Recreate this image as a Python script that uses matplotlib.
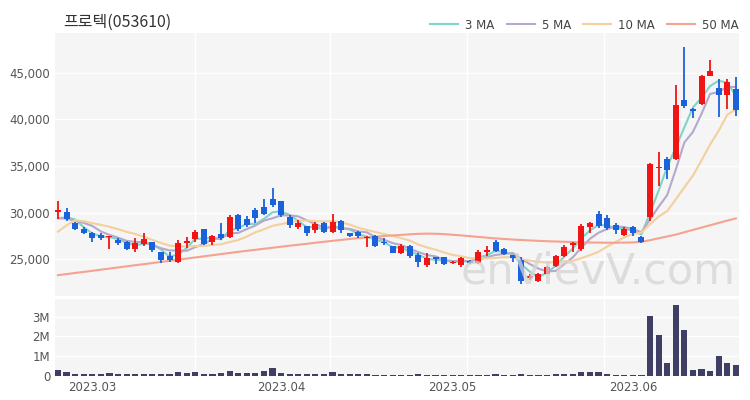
import matplotlib
matplotlib.use("Agg")
import matplotlib.pyplot as plt
import numpy as np

# ---------------- data ----------------
title = "프로텍(053610)"
opens = [30100, 30100, 28900, 28200, 27800, 27600, 27350, 27100, 26900, 26100,
         26600, 26900, 25800, 25400, 24700, 26800, 27150, 28200, 26900, 27700,
         27400, 29700, 29300, 30300, 30600, 31500, 31300, 29550, 28450, 28550,
         28100, 28850, 27950, 29100, 27800, 27900, 27250, 27500, 26850, 26400,
         25650, 26400, 25450, 24350, 25200, 25200, 24600, 24400, 24850, 24650,
         25800, 26850, 26150, 25450, 24900, 23050, 22650, 23450, 24300, 25350,
         26550, 26100, 28500, 29900, 29400, 28650, 27600, 28450, 27400, 29550,
         34750, 35800, 35800, 42100, 41150, 41650, 44650, 43400, 42600, 43300]
highs = [31200, 30500, 29000, 28500, 27900, 27800, 27550, 27300, 27000, 27300,
         27800, 26900, 25800, 25800, 27100, 27400, 28100, 28300, 27600, 28850,
         29700, 29900, 29600, 30500, 31450, 32600, 31300, 29750, 29200, 28600,
         29050, 29000, 29900, 29200, 27850, 28000, 27450, 27600, 27250, 26450,
         26600, 26550, 25650, 25700, 25250, 25300, 24800, 25250, 24900, 26000,
         26450, 27100, 26200, 25500, 25300, 23450, 23500, 24250, 25500, 26500,
         26850, 28750, 29050, 30200, 29750, 28900, 28450, 28600, 27500, 35300,
         36500, 36000, 43650, 47750, 41200, 44700, 46400, 44300, 44300, 44550]
lows = [29300, 29100, 28100, 27700, 26900, 27100, 26100, 26500, 26000, 25800,
        26400, 25800, 24600, 24750, 24600, 26200, 26900, 26500, 26500, 27100,
        27300, 28000, 28500, 28900, 29750, 30600, 29550, 28400, 28200, 27500,
        27800, 27850, 27850, 27850, 27400, 27300, 26300, 26350, 26550, 25650,
        25600, 25150, 24200, 24200, 24550, 24400, 24500, 24200, 24550, 24550,
        25350, 25750, 25500, 24750, 22400, 22800, 22550, 23400, 24200, 25250,
        25800, 25900, 27800, 28400, 28150, 27700, 27550, 27500, 26800, 29100,
        32850, 33650, 35600, 41250, 40100, 41500, 44600, 40200, 41150, 40350]
closes = [30300, 29300, 28200, 27800, 27300, 27300, 27500, 26700, 26100, 26700,
          27200, 26000, 24950, 24900, 26700, 27000, 27950, 26650, 27500, 27250,
          29550, 28200, 28700, 29400, 29900, 30800, 29750, 28700, 28850, 27800,
          28750, 27950, 29000, 28150, 27450, 27450, 27400, 26450, 26700, 25700,
          26400, 25350, 24750, 25100, 25000, 24500, 24700, 25100, 24600, 25800,
          26000, 25850, 25600, 25150, 22650, 23200, 23400, 24150, 25350, 26350,
          26800, 28600, 28900, 28600, 28350, 28150, 28300, 27800, 26900, 35250,
          34900, 34550, 41500, 41400, 40900, 44600, 45200, 42600, 44000, 41000]
# closes of the 9 sessions before the visible window (for the moving averages)
prior_closes = [22400, 22700, 29000, 29300, 29200, 29500, 29300, 29000, 28900]
# 50-day moving average
ma50 = [23300, 23420, 23540, 23650, 23770, 23890, 24010, 24130, 24250, 24370,
        24480, 24600, 24720, 24840, 24960, 25080, 25200, 25320, 25440, 25560,
        25680, 25800, 25910, 26020, 26130, 26240, 26350, 26460, 26560, 26660,
        26780, 26880, 26980, 27080, 27180, 27270, 27350, 27430, 27500, 27560,
        27620, 27680, 27730, 27750, 27740, 27700, 27630, 27560, 27480, 27400,
        27320, 27240, 27180, 27120, 27070, 27020, 26980, 26940, 26910, 26880,
        26850, 26820, 26800, 26790, 26780, 26780, 26790, 26810, 26870, 27050,
        27250, 27450, 27650, 27900, 28150, 28400, 28650, 28900, 29150, 29380]
volumes_m = [0.32, 0.19, 0.10, 0.09, 0.09, 0.08, 0.14, 0.08, 0.08, 0.11,
             0.11, 0.08, 0.08, 0.08, 0.21, 0.16, 0.17, 0.08, 0.08, 0.14,
             0.25, 0.13, 0.14, 0.16, 0.25, 0.38, 0.12, 0.10, 0.07, 0.09,
             0.10, 0.08, 0.19, 0.09, 0.08, 0.09, 0.11, 0.06, 0.06, 0.06,
             0.06, 0.06, 0.09, 0.04, 0.04, 0.03, 0.03, 0.03, 0.03, 0.03,
             0.03, 0.09, 0.03, 0.02, 0.10, 0.04, 0.03, 0.05, 0.09, 0.11,
             0.09, 0.19, 0.20, 0.17, 0.09, 0.06, 0.05, 0.06, 0.05, 3.05,
             2.05, 0.65, 3.62, 2.33, 0.30, 0.35, 0.22, 1.02, 0.67, 0.53]
month_labels = ["2023.03", "2023.04", "2023.05", "2023.06"]
month_first_idx = [4, 26, 46, 67]
price_ticks = [25000, 30000, 35000, 40000, 45000]
vol_ticks_m = [0, 1, 2, 3]
vol_tick_labels = ["0", "1M", "2M", "3M"]
ma_windows = [3, 5, 10]
ma_labels = ["3 MA", "5 MA", "10 MA", "50 MA"]

# ---------------- style ----------------
plt.rcParams['font.family'] = ['DejaVu Sans']
UP = '#f01414'
DOWN = '#1a62dc'
MA_COLORS = ['#7fd4c8', '#b5a8cb', '#f3d09c', '#f5a290']
BG = '#f5f5f5'
TXT = '#555555'

fig = plt.figure(figsize=(7.5, 4.0), dpi=100)
ax = fig.add_axes([55/750, 1-296/400, 684/750, 263/400])
axv = fig.add_axes([55/750, 1-377/400, 684/750, 78/400])

n = len(closes)
x = np.arange(n)
o = np.array(opens, float); h = np.array(highs, float)
l = np.array(lows, float); c = np.array(closes, float)
up = c >= o
cols = np.where(up, UP, DOWN)

for a in (ax, axv):
    a.set_facecolor(BG)
    for s in a.spines.values():
        s.set_visible(False)
    a.tick_params(length=0, colors=TXT, labelsize=8.5)
    a.set_xlim(-0.35, n - 0.63)
    for gx in [16, 31.7, 47.7, 63.6]:
        a.axvline(gx, color='white', lw=1.0, zorder=0)

# gridlines
for t in price_ticks:
    ax.axhline(t, color='white', lw=1.0, zorder=0)
for t in vol_ticks_m:
    axv.axhline(t, color='white', lw=1.0, zorder=0)

# moving averages
allc = np.array(prior_closes + closes, float)
for w, col, lab in zip(ma_windows, MA_COLORS[:3], ma_labels[:3]):
    ma = np.convolve(allc, np.ones(w) / w, mode='valid')[-n:]
    ax.plot(x, ma, color=col, lw=1.5, zorder=2, label=lab)
ax.plot(x, ma50, color=MA_COLORS[3], lw=1.5, zorder=2, label=ma_labels[3])

# candles
ax.vlines(x, l, h, colors=cols, lw=1.3, zorder=3)
body_h = np.maximum(np.abs(c - o), 60)
ax.bar(x, body_h, bottom=np.minimum(o, c), width=0.7, color=cols, zorder=4, linewidth=0)

ax.set_ylim(21070, 49250)
ax.set_yticks(price_ticks)
ax.set_yticklabels([f"{t:,}" for t in price_ticks])
ax.set_xticks([])

# volume
axv.bar(x, volumes_m, width=0.72, color='#3f3f66', zorder=3, linewidth=0)
axv.set_ylim(-0.06, 3.9)
axv.set_yticks(vol_ticks_m)
axv.set_yticklabels(vol_tick_labels)
axv.set_xticks(month_first_idx)
axv.set_xticklabels(month_labels)
axv.tick_params(axis='x', pad=3)

# title & legend
fig.text(63/750, 1-22/400, title, fontsize=11.5, color='#333333', va='center',
         family=['Noto Sans CJK KR', 'DejaVu Sans'])
leg = ax.legend(loc='center right', bbox_to_anchor=(1.0, 1.030), ncol=4, frameon=False,
                fontsize=8.5, handlelength=2.4, columnspacing=1.0, handletextpad=0.6,
                borderaxespad=0.0, borderpad=0.0)
for t in leg.get_texts():
    t.set_color('#444444')

# watermark
fig.text(598/750, 1-271/400, "enVievV.com", fontsize=31, color='#d4d4d4',
         alpha=0.75, ha='center', va='center', zorder=1)

fig.savefig("out.png", dpi=100)
